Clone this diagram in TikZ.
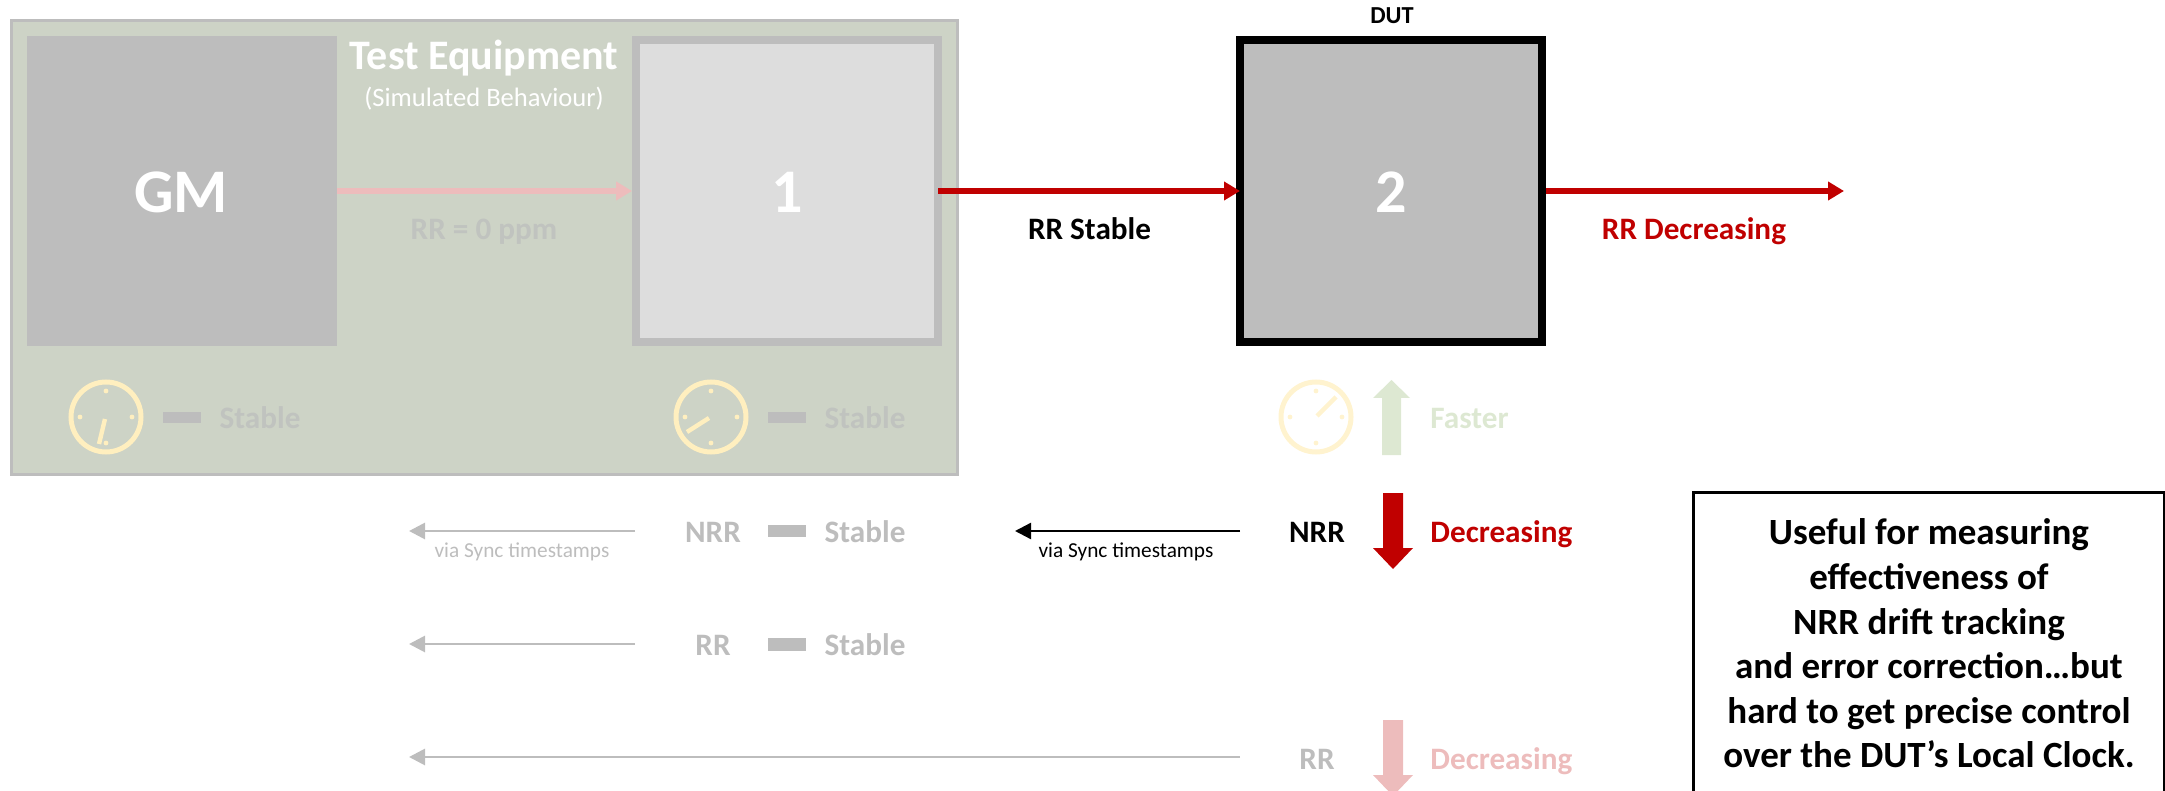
\documentclass[tikz,border=0pt]{standalone}
\usepackage{fontspec}
\setmainfont{Carlito}
\usetikzlibrary{arrows.meta}
\definecolor{panelfill}{HTML}{CDD3C6}
\definecolor{greybox}{HTML}{BDBDBD}
\definecolor{lightbox}{HTML}{DDDDDD}
\definecolor{fadetext}{HTML}{C0C3BF}
\definecolor{deepred}{HTML}{C00000}
\definecolor{palered}{HTML}{EDBCBC}
\definecolor{palegreen}{HTML}{DDE8D2}
\definecolor{clockcol}{HTML}{FFEFBF}
\newcommand{\fsz}[1]{\fontsize{#1pt}{#1pt}\selectfont}
\tikzset{
  x=0.5pt,y=-0.5pt,
  lab/.style={anchor=base,inner sep=0pt,font=\bfseries\fsz{15.6}},
  small/.style={anchor=base,inner sep=0pt,font=\fsz{10.65}},
  squarebox/.style={rectangle,inner sep=0pt,outer sep=0pt,minimum width=#1,minimum height=#1},
  boxnum/.style={text=white,font=\bfseries\fsz{31},anchor=base,inner sep=0pt},
  redlink/.style={draw=deepred,line width=3pt,-{Triangle[length=8pt,width=9pt]}},
  pinklink/.style={draw=palered,line width=3pt,-{Triangle[length=8pt,width=9pt]}},
  greylink/.style={draw=greybox,line width=1.4pt,-{Triangle[length=8pt,width=8pt]}},
  blacklink/.style={draw=black,line width=1.2pt,-{Triangle[length=8pt,width=8pt]}},
  steadybar/.style={fill=greybox},
  pics/clockface/.style 2 args={code={
    \draw[clockcol,line width=2.5pt] (0,0) circle[radius=35];
    \foreach \a in {0,90,180,270}{\fill[clockcol] (\a:26) circle[radius=2.4];}
    \draw[clockcol,line width=2.2pt] (#1) -- (#2);
  }}
}
\begin{document}
\begin{tikzpicture}
\path[use as bounding box,clip] (0,0) rectangle (2165,791);

% Test equipment panel
\node[rectangle,draw=greybox,fill=panelfill,line width=1.5pt,inner sep=0pt,minimum width=473pt,minimum height=227pt] (panel) at (484,247.5) {};
\node[squarebox=155pt,fill=greybox] (gm) at (182,191) {};
\node[squarebox=151pt,fill=lightbox,draw=greybox,line width=4pt] (one) at (787,191) {};
\node[squarebox=151pt,fill=greybox,draw=black,line width=4pt] (two) at (1391,191) {};

\node[boxnum] (gmt) at (181,212.5) {GM};
\node[boxnum] (onet) at (787,212.5) {1};
\node[boxnum] (twot) at (1391,212.5) {2};

\node[anchor=base,inner sep=0pt,text=white,font=\bfseries\fsz{21}] (te) at (484,70) {Test Equipment};
\node[anchor=base,inner sep=0pt,text=white,font=\fsz{13.3}] (sim) at (484,107) {(Simulated Behaviour)};
\node[anchor=base,inner sep=0pt,font=\bfseries\fsz{12.2}] (dut) at (1392,24) {DUT};

% Links between boxes
\coordinate (out) at (1844,191);
\draw[pinklink,shorten >=2pt] (gm.east) -- (one.west);
\draw[redlink] (one.east) -- (two.west);
\draw[redlink,shorten <=2pt] (two.east) -- (out);

\node[lab,text=fadetext] (rr0) at (484,240) {RR = 0 ppm};
\node[lab] (rrs) at (1089.5,240) {RR Stable};
\node[lab,text=deepred] (rrd) at (1694,240) {RR Decreasing};

% Clocks
\pic at (106,417) {clockface={-1,2}{-7,27}};
\pic at (711,417) {clockface={-2,1}{-24,15}};
\pic[opacity=0.75] at (1316,417) {clockface={1,-1}{20,-20}};

\fill[steadybar] (163,412) rectangle (201,423);
\fill[steadybar] (768,412) rectangle (806,423);
\node[lab,text=fadetext] (st1) at (260,429) {Stable};
\node[lab,text=fadetext] (st2) at (865,429) {Stable};

\fill[palegreen] (1382,455) -- (1382,398) -- (1373,398) -- (1391.5,380) -- (1410,398) -- (1401,398) -- (1401,455) -- cycle;
\node[lab,text=palegreen,anchor=base west] (fast) at (1430,429) {Faster};

% NRR row
\fill[deepred] (1383,493) -- (1403,493) -- (1403,548) -- (1413,548) -- (1393,569) -- (1373,548) -- (1383,548) -- cycle;
\node[lab] (nrr) at (1317,542) {NRR};
\node[lab,text=deepred,anchor=base west] (dec1) at (1430,542) {Decreasing};

\coordinate (a1) at (1240,531);
\coordinate (a1t) at (1015,531);
\draw[blacklink] (a1) -- (a1t);
\node[small] (via1) at (1126,557) {via Sync timestamps};

\coordinate (b1) at (635,531);
\coordinate (b1t) at (409,531);
\draw[greylink] (b1) -- (b1t);
\node[small,text=greybox] (via2) at (522,557) {via Sync timestamps};
\node[lab,text=greybox] (nrr2) at (713,542) {NRR};
\fill[steadybar] (768,525) rectangle (806,537);
\node[lab,text=greybox] (st3) at (865,542) {Stable};

% RR row
\coordinate (b2) at (635,644);
\coordinate (b2t) at (409,644);
\draw[greylink] (b2) -- (b2t);
\node[lab,text=greybox] (rr2) at (713,655) {RR};
\fill[steadybar] (768,638) rectangle (806,651);
\node[lab,text=greybox] (st4) at (865,655) {Stable};

% Bottom row
\coordinate (b3) at (1240,757);
\coordinate (b3t) at (409,757);
\draw[greylink] (b3) -- (b3t);
\node[lab,text=greybox] (rr3) at (1317,769) {RR};
\fill[palered] (1383,720) -- (1403,720) -- (1403,775) -- (1413,775) -- (1393,796) -- (1373,775) -- (1383,775) -- cycle;
\node[lab,text=palered,anchor=base west] (dec2) at (1430,769) {Decreasing};

% Note
\node[rectangle,draw=black,fill=white,line width=1.5pt,inner sep=0pt,minimum width=235.5pt,minimum height=151.5pt,
      align=center,font=\bfseries\fontsize{18.5pt}{22.3pt}\selectfont] (note) at (1929,643.5)
  {Useful for measuring\\effectiveness of\\NRR drift tracking\\and error correction…but\\hard to get precise control\\over the DUT’s Local Clock.};
\end{tikzpicture}
\end{document}
